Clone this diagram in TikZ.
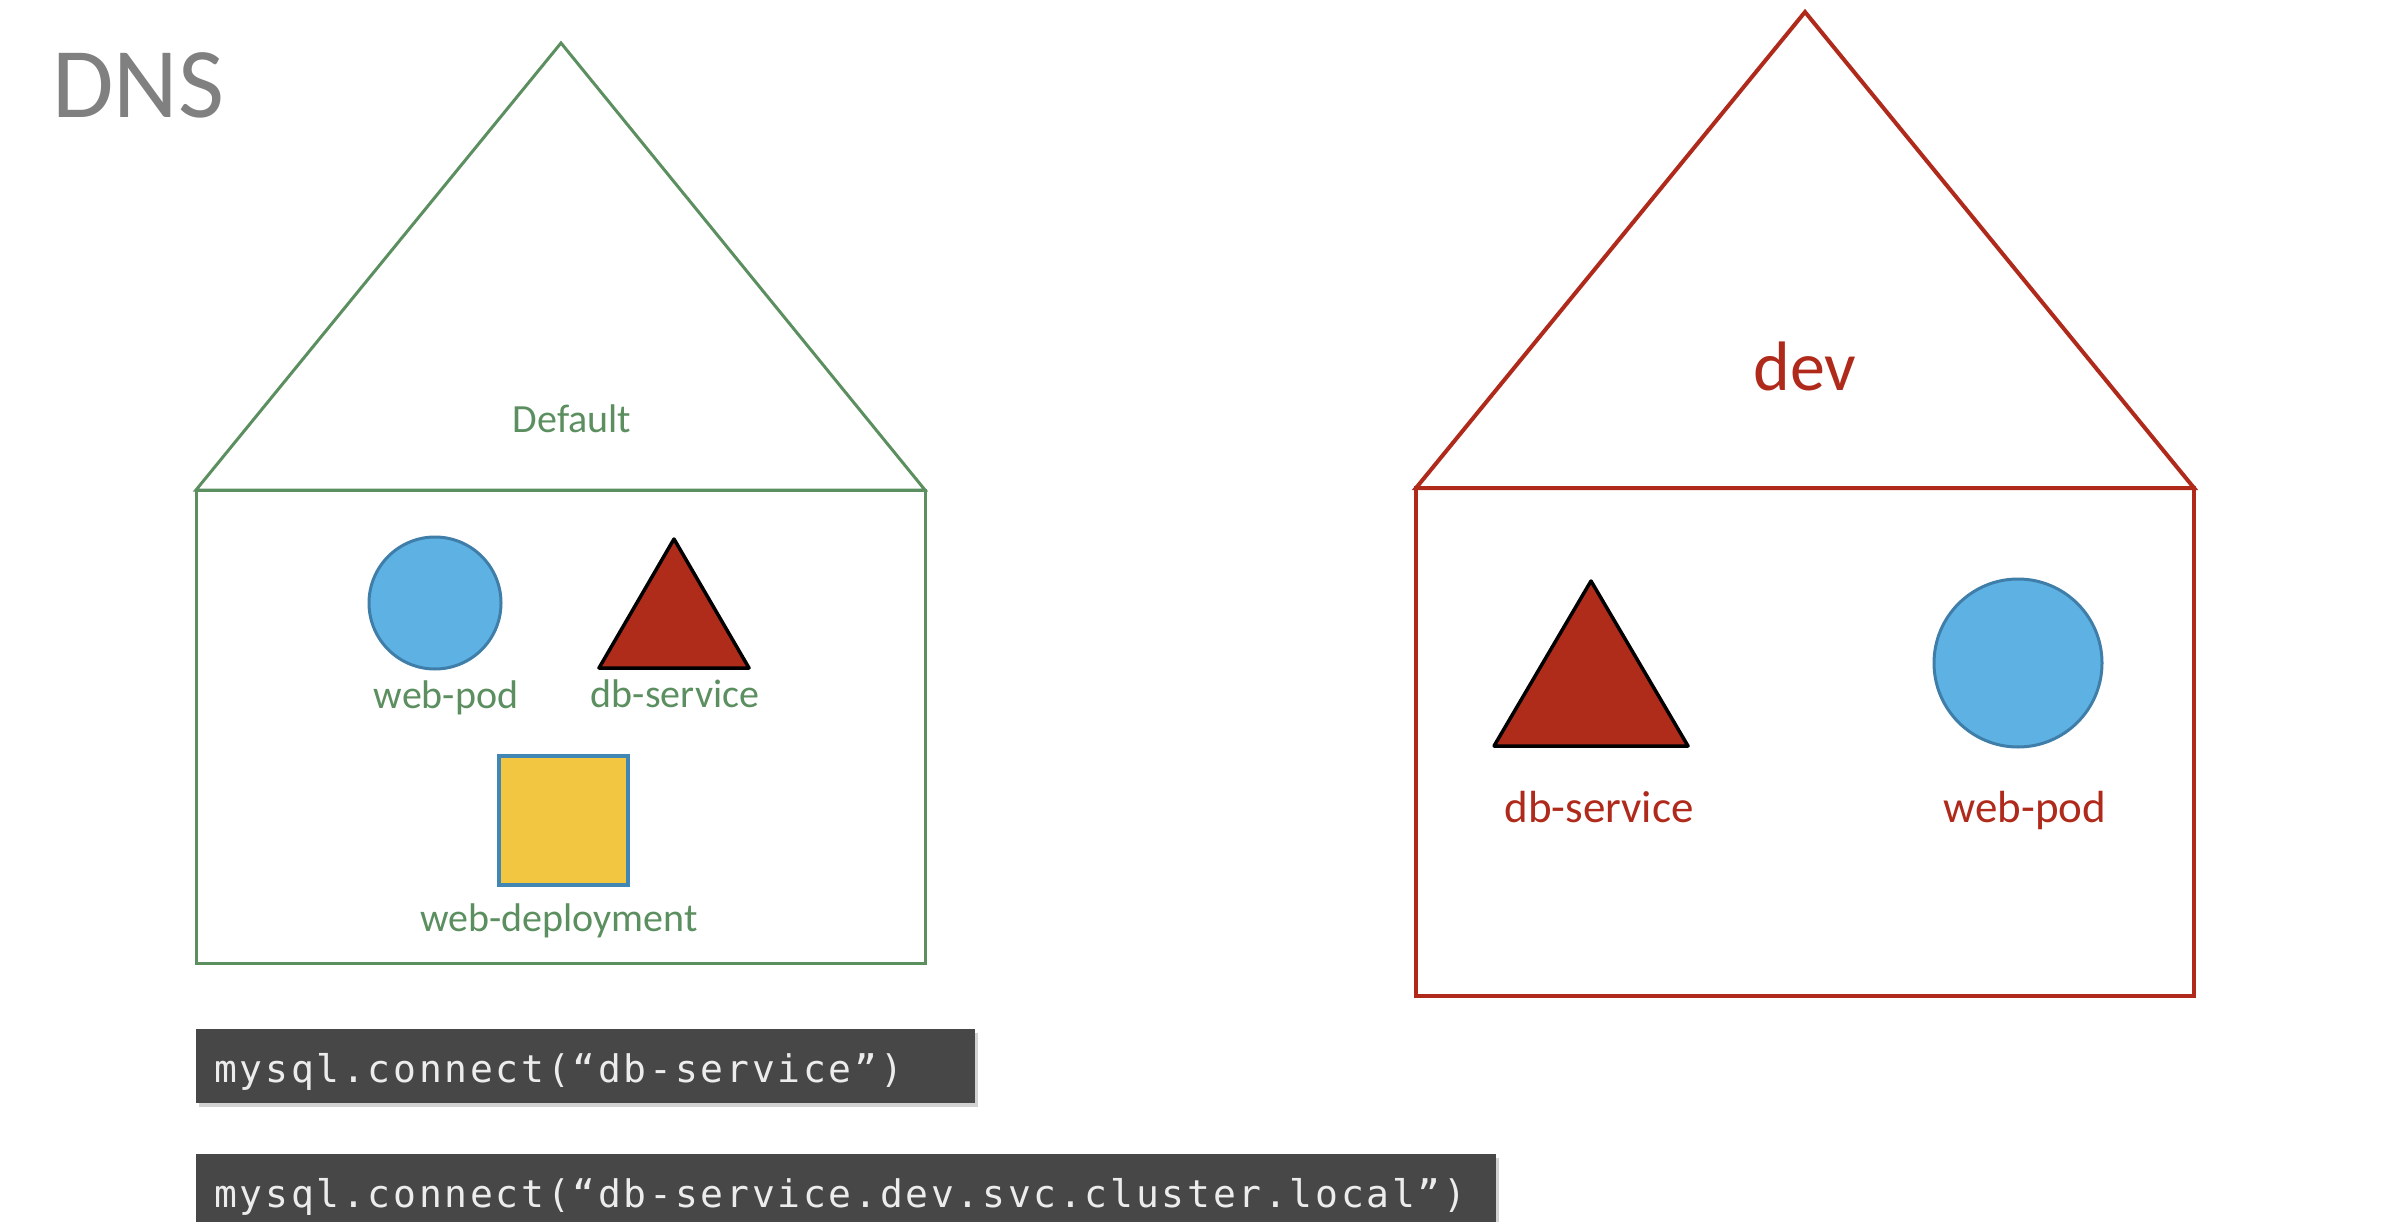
\documentclass[tikz,border=0pt]{standalone}
\usepackage{fontspec}
\setmainfont{Carlito}
\newfontfamily\codefont{DejaVu Sans Mono}[LetterSpace=7.2]
\usetikzlibrary{shadows}
\definecolor{hgreen}{RGB}{92,143,96}
\definecolor{hred}{RGB}{176,42,28}
\definecolor{podblue}{RGB}{93,178,227}
\definecolor{podedge}{RGB}{64,126,170}
\definecolor{svcred}{RGB}{176,44,26}
\definecolor{depyellow}{RGB}{242,198,65}
\definecolor{depedge}{RGB}{66,134,180}
\definecolor{dnsgray}{RGB}{128,128,128}
\definecolor{codebg}{RGB}{71,71,71}
\definecolor{codefg}{RGB}{236,236,236}
\tikzset{
  greenhouse/.style={draw=hgreen, line width=3pt, line join=miter},
  redhouse/.style={draw=hred, line width=4pt, line join=miter},
  podshape/.style={circle, fill=podblue, draw=podedge, line width=3pt, inner sep=0pt},
  svcshape/.style={fill=svcred, draw=black, line width=3.5pt, line join=round},
  depshape/.style={rectangle, fill=depyellow, draw=depedge, line width=4pt, inner sep=0pt},
  glabel/.style={text=hgreen, inner sep=0pt, anchor=base, font=\fontsize{40}{46}\selectfont},
  rlabel/.style={text=hred, inner sep=0pt, anchor=base, font=\fontsize{45}{52}\selectfont},
  codebox/.style={rectangle, fill=codebg, inner sep=0pt, anchor=north west,
     drop shadow={opacity=0.35, shadow xshift=3pt, shadow yshift=-4pt}},
  codetext/.style={text=codefg, inner sep=0pt, anchor=base west, font=\codefont\fontsize{38}{44}\selectfont}
}
\begin{document}
\begin{tikzpicture}[x=1pt, y=-1pt]
\useasboundingbox[fill=white] (0,0) rectangle (2400,1222);

% title
\node[text=dnsgray, inner sep=0pt, anchor=base west, font=\fontsize{100}{110}\selectfont] (dns) at (52,118) {DNS};

% default namespace house
\draw[greenhouse] (196,490) -- (561,43) -- (925,490) -- cycle;
\draw[greenhouse] (196,490) rectangle (925,963);
\node[glabel] (default) at (572,432) {Default};

\node[podshape, minimum size=132pt] (gpod) at (435,603) {};
\node[glabel] (gpodl) at (446,708) {web-pod};
\draw[svcshape] (674,539) -- (749,668) -- (599,668) -- cycle;
\coordinate (gsvc) at (674,625);
\node[glabel] (gsvcl) at (675,707) {db-service};
\node[depshape, minimum width=129pt, minimum height=129pt] (gdep) at (563.5,820) {};
\node[glabel] (gdepl) at (559,931) {web-deployment};

% dev namespace house
\draw[redhouse] (1416,488) -- (1805,12) -- (2194,488) -- cycle;
\draw[redhouse] (1416,488) rectangle (2194,996);
\node[text=hred, inner sep=0pt, anchor=base, font=\fontsize{70}{80}\selectfont] (dev) at (1805,390) {dev};

\draw[svcshape] (1591,581) -- (1688,746) -- (1494,746) -- cycle;
\coordinate (rsvc) at (1591,690);
\node[rlabel] (rsvcl) at (1599,822) {db-service};
\node[podshape, minimum size=168pt] (rpod) at (2018,663) {};
\node[rlabel] (rpodl) at (2025,822) {web-pod};

% code boxes
\node[codebox, minimum width=779pt, minimum height=74pt] (code1) at (196,1029) {};
\node[codetext] (code1t) at (214,1082) {mysql.connect(“db-service”)};
\node[codebox, minimum width=1300pt, minimum height=100pt] (code2) at (196,1154) {};
\node[codetext] (code2t) at (214,1207) {mysql.connect(“db-service.dev.svc.cluster.local”)};
\end{tikzpicture}
\end{document}
